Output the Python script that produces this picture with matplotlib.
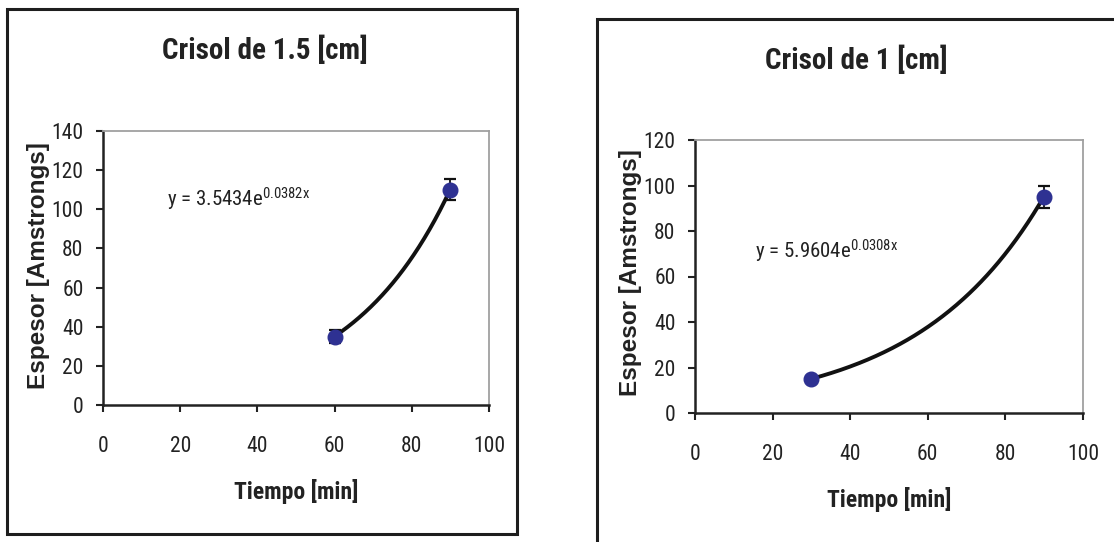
import numpy as np
import matplotlib
matplotlib.use("Agg")
import matplotlib.pyplot as plt
from matplotlib.patches import Rectangle
from matplotlib import font_manager

# ---------------- data ----------------
titles = ["Crisol de 1.5 [cm]", "Crisol de 1 [cm]"]
x_label = "Tiempo [min]"
y_label = "Espesor [Amstrongs]"

left_time = [60, 90]
left_thick = [35, 110]
left_err = [3.5, 5.5]
left_fit_a, left_fit_b = 3.5434, 0.0382
left_eq = r"y = 3.5434e$^{0.0382x}$"
left_yticks = [0, 20, 40, 60, 80, 100, 120, 140]

right_time = [30, 90]
right_thick = [15, 95]
right_err = [1.0, 4.8]
right_fit_a, right_fit_b = 5.9604, 0.0308
right_eq = r"y = 5.9604e$^{0.0308x}$"
right_yticks = [0, 20, 40, 60, 80, 100, 120]

xticks = [0, 20, 40, 60, 80, 100]

# ---------------- fonts ----------------
names = sorted({f.name for f in font_manager.fontManager.ttflist})
narrow = None
for pref in ["Liberation Sans Narrow", "Arial Narrow", "Roboto Condensed",
             "Open Sans Condensed", "DejaVu Sans Condensed"]:
    if pref in names:
        narrow = pref
        break
if narrow is None:
    cands = [n for n in names if ("Narrow" in n or "Condensed" in n)]
    narrow = cands[0] if cands else "Liberation Sans"
is_narrow = narrow != "Liberation Sans"

plt.rcParams["mathtext.fontset"] = "custom"
plt.rcParams["mathtext.rm"] = narrow
plt.rcParams["mathtext.it"] = narrow
plt.rcParams["font.family"] = [narrow, "DejaVu Sans"]

W, H = 1114, 542
fig = plt.figure(figsize=(W / 100, H / 100), dpi=100)
fig.patch.set_facecolor("white")

def px_axes(x0, y0, x1, y1):
    return fig.add_axes([x0 / W, 1 - y1 / H, (x1 - x0) / W, (y1 - y0) / H])

def fx(x):
    return x / W

def fy(y):
    return 1 - y / H

# panel borders
fig.patches.append(Rectangle((fx(7), fy(534)), fx(517) - fx(7), fy(9) - fy(534),
                             transform=fig.transFigure, fill=False, ec="#1e1e1e", lw=2.2))
fig.patches.append(Rectangle((fx(597), fy(560)), fx(1130) - fx(597), fy(19) - fy(560),
                             transform=fig.transFigure, fill=False, ec="#1e1e1e", lw=2.2,
                             clip_on=False))

marker_color = "#2e3192"
tick_size = 15.5 if is_narrow else 13.5
eq_size = 15 if is_narrow else 12.5

def setup(ax, t, y, err, a, b, eq, eqpos, yticks, ymax):
    xs = np.linspace(t[0], t[-1], 200)
    ax.plot(xs, a * np.exp(b * xs), color="#111111", lw=2.8, zorder=3)
    ax.errorbar(t, y, yerr=err, fmt="none", ecolor="#111111", elinewidth=1.3,
                capsize=4.5, capthick=1.6, zorder=2)
    ax.plot(t, y, "o", color=marker_color, ms=10.5, mec=marker_color, zorder=4)
    ax.set_xlim(0, 100)
    ax.set_ylim(0, ymax)
    ax.set_xticks(xticks)
    ax.set_yticks(yticks)
    ax.tick_params(direction="out", length=5, width=1.5, color="#222222",
                   labelsize=tick_size, labelcolor="#222222", pad=9)
    ax.tick_params(axis="x", pad=17)
    for s in ["left", "bottom"]:
        ax.spines[s].set_color("#222222")
        ax.spines[s].set_linewidth(1.8)
    for s in ["top", "right"]:
        ax.spines[s].set_color("#a0a0a0")
        ax.spines[s].set_linewidth(1.3)
    ax.text(eqpos[0], eqpos[1], eq, fontsize=eq_size, color="#222222", va="center", ha="left")

axL = px_axes(103, 131, 489, 405)
setup(axL, left_time, left_thick, left_err, left_fit_a, left_fit_b, left_eq,
      (16.5, 105), left_yticks, 140)
axR = px_axes(695, 140, 1083, 413)
setup(axR, right_time, right_thick, right_err, right_fit_a, right_fit_b, right_eq,
      (15.5, 71), right_yticks, 120)

title_kw = dict(fontsize=21 if is_narrow else 18, fontweight="bold", color="#222222",
                ha="center", va="center")
fig.text(fx(265), fy(50), titles[0], **title_kw)
fig.text(fx(856), fy(60), titles[1], **title_kw)

xl_kw = dict(fontsize=17 if is_narrow else 14, fontweight="bold", color="#222222",
             ha="center", va="center")
fig.text(fx(296), fy(491), x_label, **xl_kw)
fig.text(fx(889), fy(500), x_label, **xl_kw)

yl_kw = dict(fontsize=17.5, fontweight="bold", color="#222222", ha="center", va="center",
             rotation=90, family=["Liberation Sans", "DejaVu Sans"])
fig.text(fx(39), fy(266), y_label, **yl_kw)
fig.text(fx(631), fy(273), y_label, **yl_kw)

fig.savefig("out.png", dpi=100, facecolor="white")
